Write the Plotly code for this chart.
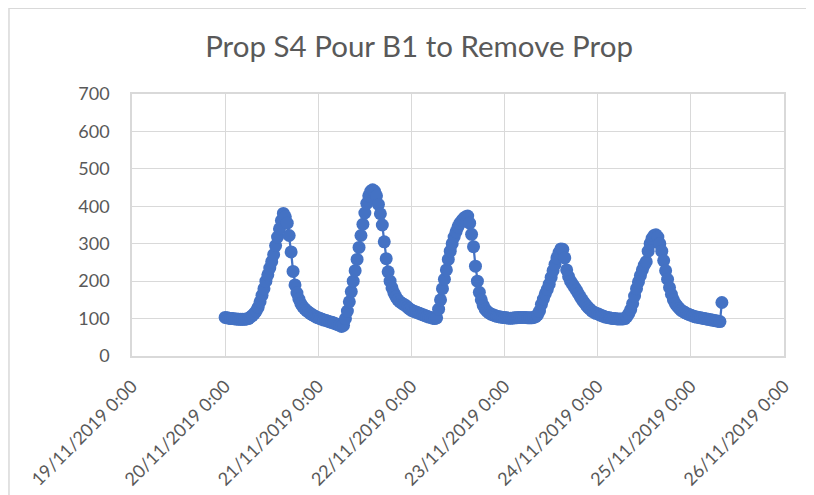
import pandas as pd
import plotly.graph_objects as go

# ---- data (30-minute readings starting 20/11/2019 0:00) ----
start_time = "2019-11-20 00:00"
interval = "30min"

day_20 = [103, 102, 101, 100, 100, 99, 99, 98, 98, 98, 98, 99,
          100, 104, 108, 113, 120, 130, 145, 162, 180, 200, 217, 235,
          252, 271, 295, 318, 340, 362, 381, 372, 355, 322, 278, 226,
          190, 168, 152, 140, 132, 126, 121, 117, 113, 110, 107, 104]
day_21 = [102, 100, 98, 96, 95, 93, 91, 90, 88, 86, 84, 82,
          79, 82, 100, 120, 145, 172, 200, 228, 258, 290, 322, 352,
          382, 408, 428, 440, 444, 440, 428, 405, 380, 350, 305, 260,
          225, 200, 182, 168, 158, 150, 145, 141, 138, 135, 130, 126]
day_22 = [122, 120, 118, 116, 114, 112, 110, 108, 106, 104, 103, 101,
          100, 102, 125, 150, 180, 205, 230, 258, 280, 300, 318, 332,
          345, 355, 362, 368, 372, 374, 355, 325, 292, 240, 200, 170,
          150, 135, 125, 119, 115, 112, 110, 108, 106, 105, 104, 103]
day_23 = [103, 102, 101, 101, 101, 102, 102, 103, 103, 103, 103, 103,
          102, 102, 102, 103, 105, 110, 120, 138, 152, 166, 178, 192,
          210, 228, 245, 262, 276, 286, 285, 262, 230, 212, 200, 192,
          184, 176, 167, 158, 150, 143, 136, 130, 125, 120, 117, 114]
day_24 = [113, 110, 108, 106, 104, 103, 102, 101, 100, 100, 99, 99,
          99, 99, 100, 105, 113, 124, 140, 160, 180, 198, 215, 230,
          243, 252, 280, 300, 314, 322, 324, 318, 300, 280, 255, 228,
          205, 183, 165, 150, 140, 133, 127, 122, 119, 116, 113, 111]
day_25 = [109, 107, 105, 104, 103, 102, 101, 100, 99, 98, 97, 96,
          95, 94, 93, 92, 143]

values = day_20 + day_21 + day_22 + day_23 + day_24 + day_25
times = pd.date_range(start=start_time, periods=len(values), freq=interval)

tick_dates = ["2019-11-19", "2019-11-20", "2019-11-21", "2019-11-22",
              "2019-11-23", "2019-11-24", "2019-11-25", "2019-11-26"]
tick_labels = ["19/11/2019 0:00", "20/11/2019 0:00", "21/11/2019 0:00",
               "22/11/2019 0:00", "23/11/2019 0:00", "24/11/2019 0:00",
               "25/11/2019 0:00", "26/11/2019 0:00"]
y_ticks = [0, 100, 200, 300, 400, 500, 600, 700]

title_text = "Prop S4 Pour B1 to Remove Prop"

# ---- figure ----
blue = "#4472C4"
grid = "#d9d9d9"
txt = "#595959"
font_family = "Lato"

fig = go.Figure(
    go.Scatter(
        x=times, y=values, mode="lines+markers",
        line=dict(color=blue, width=2.25),
        marker=dict(color=blue, size=13, line=dict(width=0)),
        showlegend=False,
    )
)

fig.update_layout(
    width=814, height=495,
    margin=dict(l=124, r=38, t=86, b=147),
    paper_bgcolor="white", plot_bgcolor="white",
    font=dict(family=font_family, color=txt, size=18),
    title=dict(text=title_text, x=0.505, xref="container", xanchor="center",
               y=0.921, yref="container", yanchor="middle",
               font=dict(size=29.5, color=txt, family=font_family)),
    shapes=[dict(type="rect", xref="paper", yref="paper",
                 x0=-0.1887, x1=1.08, y0=-0.7, y1=1.327,
                 line=dict(color=grid, width=1.5), fillcolor="rgba(0,0,0,0)",
                 layer="below")],
)

fig.update_xaxes(
    type="date", range=[tick_dates[0], tick_dates[-1]],
    tickvals=tick_dates, ticktext=tick_labels, tickangle=-45,
    showgrid=True, gridcolor=grid, gridwidth=1,
    showline=True, linecolor=grid, linewidth=1.5, mirror=True,
    ticks="", ticklabelstandoff=11, zeroline=False,
    tickfont=dict(size=18, color=txt, family=font_family),
)
fig.update_yaxes(
    range=[0, 700], tickvals=y_ticks,
    showgrid=True, gridcolor=grid, gridwidth=1,
    showline=True, linecolor=grid, linewidth=1.5, mirror=True,
    ticks="", ticklabelstandoff=17, zeroline=False,
    tickfont=dict(size=18, color=txt, family=font_family),
)

fig.write_html("out.html")
